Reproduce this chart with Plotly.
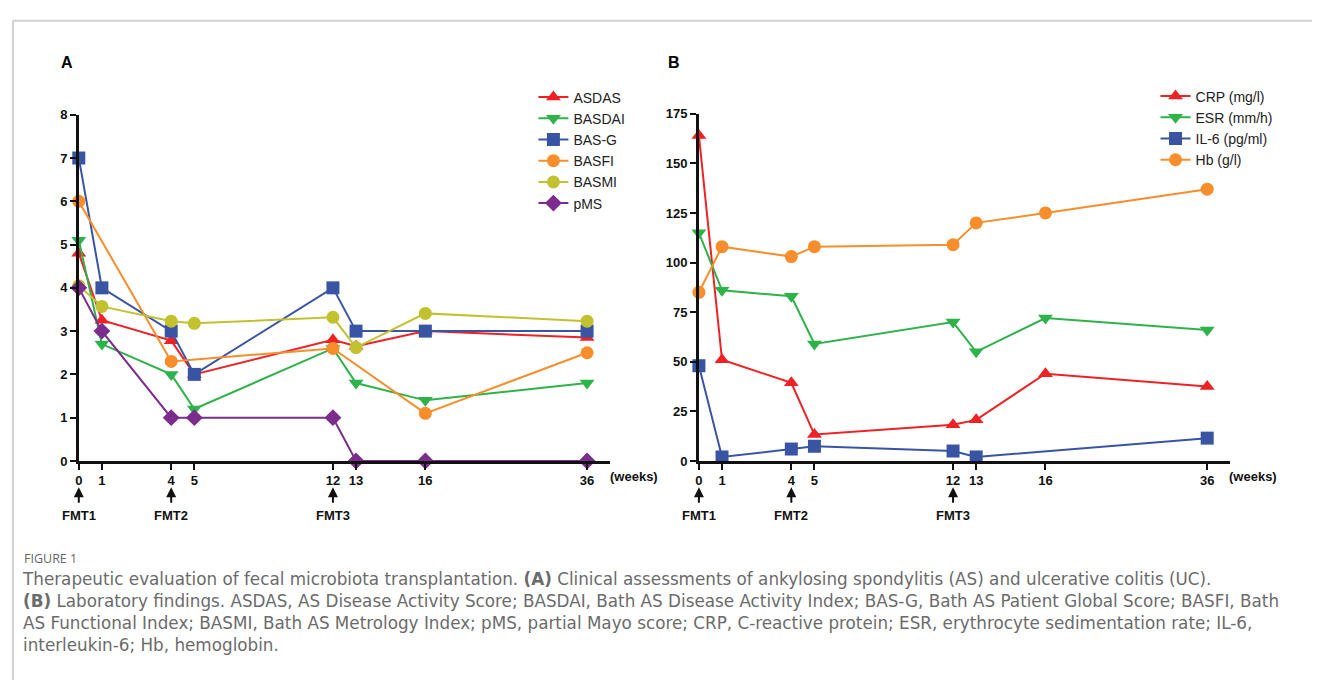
import plotly.graph_objects as go

# ---------------- data ----------------
weeks = [0, 1, 4, 5, 12, 13, 16, 36]

asdas = [4.8, 3.25, 2.78, 2.0, 2.8, 2.65, 3.0, 2.85]
basdai = [5.1, 2.7, 2.0, 1.2, 2.6, 1.8, 1.4, 1.8]
bas_g = [7, 4, 3, 2, 4, 3, 3, 3]
basfi = [6, None, 2.3, None, 2.6, None, 1.1, 2.5]
basmi = [4.05, 3.57, 3.23, 3.18, 3.32, 2.62, 3.41, 3.23]
pms = [4, 3, 1, 1, 1, 0, 0, 0]

crp = [164, 51, 39.4, 13.3, 18.2, 20.7, 44, 37.5]
esr = [115, 86, 83, 59, 70, 55, 72, 66]
il6 = [48, 2, 6, 7.4, 5, 2, None, 11.5]
hb = [85, 108, 103, 108, 109, 120, 125, 137]

fmt_weeks = [0, 4, 12]
fmt_labels = ["FMT1", "FMT2", "FMT3"]

yticks_a = [0, 1, 2, 3, 4, 5, 6, 7, 8]
yticks_b = [0, 25, 50, 75, 100, 125, 150, 175]

# compressed (GraphPad-style) week axis: scale mapping week -> axis position
AXIS_POS = {0: 0, 1: 1, 4: 4, 5: 5, 12: 11, 13: 12, 16: 15, 36: 22}
xpos = [AXIS_POS[w] for w in weeks]

# ---------------- style ----------------
W, H = 1320, 680
OFF = 8  # page body margin
RED = "#EE2124"
GREEN = "#2EB24A"
BLUE = "#3A54A4"
ORANGE = "#F78E2B"
OLIVE = "#C2C12F"
PURPLE = "#7B2C8C"

def py(pix):
    return 1 - (pix - OFF) / H

def px(pix):
    return (pix - OFF) / W

fig = go.Figure()

def add(x, y, name, color, symbol, size, xa, ya, legend):
    fig.add_trace(go.Scatter(
        x=x, y=y, name=name, mode="lines+markers", connectgaps=True,
        line=dict(color=color, width=2),
        marker=dict(color=color, symbol=symbol, size=size, line=dict(width=0)),
        xaxis=xa, yaxis=ya, legend=legend, cliponaxis=False,
    ))

add(xpos, asdas, "ASDAS", RED, "triangle-up", 13, "x", "y", "legend")
add(xpos, basdai, "BASDAI", GREEN, "triangle-down", 13, "x", "y", "legend")
add(xpos, bas_g, "BAS-G", BLUE, "square", 13, "x", "y", "legend")
add(xpos, basfi, "BASFI", ORANGE, "circle", 13, "x", "y", "legend")
add(xpos, basmi, "BASMI", OLIVE, "circle", 13, "x", "y", "legend")
add(xpos, pms, "pMS", PURPLE, "diamond", 13, "x", "y", "legend")

add(xpos, crp, "CRP (mg/l)", RED, "triangle-up", 13, "x2", "y2", "legend2")
add(xpos, esr, "ESR (mm/h)", GREEN, "triangle-down", 13, "x2", "y2", "legend2")
add(xpos, il6, "IL-6 (pg/ml)", BLUE, "square", 13, "x2", "y2", "legend2")
add(xpos, hb, "Hb (g/l)", ORANGE, "circle", 13, "x2", "y2", "legend2")

tickfont = dict(family="Liberation Sans, Arial", size=13, color="#111", weight="bold")

common_x = dict(
    range=[0, 23], tickmode="array", tickvals=xpos, ticktext=[str(w) for w in weeks],
    showline=True, linecolor="#111", linewidth=2.5, ticks="outside", ticklen=6,
    tickwidth=2, tickcolor="#111", showgrid=False, zeroline=False, tickfont=tickfont,
    fixedrange=True,
)
common_y = dict(
    showline=True, linecolor="#111", linewidth=2.5, ticks="outside", ticklen=6,
    tickwidth=2, tickcolor="#111", showgrid=False, zeroline=False, tickfont=tickfont,
    tickmode="array", fixedrange=True,
)

legfont = dict(family="Liberation Sans, Arial", size=14, color="#222")
fig.update_layout(
    width=W, height=H, margin=dict(l=0, r=0, t=0, b=0),
    paper_bgcolor="white", plot_bgcolor="white",
    xaxis=dict(domain=[px(75), px(608)], anchor="y", **common_x),
    yaxis=dict(domain=[py(464), py(110)], range=[0, 8], tickvals=yticks_a, anchor="x", **common_y),
    xaxis2=dict(domain=[px(697), px(1230)], anchor="y2", **common_x),
    yaxis2=dict(domain=[py(464), py(109)], range=[0, 175], tickvals=yticks_b, anchor="x2", **common_y),
    legend=dict(x=px(531), y=py(76), xanchor="left", yanchor="top", font=legfont,
                tracegroupgap=0, itemwidth=30, bgcolor="rgba(0,0,0,0)"),
    legend2=dict(x=px(1155), y=py(75), xanchor="left", yanchor="top", font=legfont,
                 tracegroupgap=0, itemwidth=30, bgcolor="rgba(0,0,0,0)"),
    showlegend=True,
)

ann = []
letter_font = dict(family="Liberation Sans, Arial", size=16, color="#000", weight="bold")
ann.append(dict(text="A", x=px(55), y=py(57), xref="paper", yref="paper", showarrow=False,
                xanchor="left", yanchor="middle", font=letter_font))
ann.append(dict(text="B", x=px(664), y=py(57), xref="paper", yref="paper", showarrow=False,
                xanchor="left", yanchor="middle", font=letter_font))

for xr, wx in [("x", 606), ("x2", 1227)]:
    ann.append(dict(text="(weeks)", x=px(wx), y=py(480), xref="paper", yref="paper",
                    showarrow=False, xanchor="left", yanchor="middle", font=tickfont))
    for w, lab in zip(fmt_weeks, fmt_labels):
        ann.append(dict(text="", x=AXIS_POS[w], y=py(491), xref=xr, yref="paper",
                        showarrow=True, ax=0, ay=17, arrowhead=2, arrowsize=1,
                        arrowwidth=2, arrowcolor="#111"))
        ann.append(dict(text=lab, x=AXIS_POS[w], y=py(520), xref=xr, yref="paper",
                        showarrow=False, xanchor="center", yanchor="middle", font=tickfont))

# caption
ann.append(dict(text="FIGURE 1", x=px(18), y=py(564), xref="paper", yref="paper",
                showarrow=False, xanchor="left", yanchor="middle",
                font=dict(family="Open Sans, Lato", size=12.5, color="#666")))
cap_lines = [
    "Therapeutic evaluation of fecal microbiota transplantation. <b>(A)</b> Clinical assessments of ankylosing spondylitis (AS) and ulcerative colitis (UC).",
    "<b>(B)</b> Laboratory findings. ASDAS, AS Disease Activity Score; BASDAI, Bath AS Disease Activity Index; BAS-G, Bath AS Patient Global Score; BASFI, Bath",
    "AS Functional Index; BASMI, Bath AS Metrology Index; pMS, partial Mayo score; CRP, C-reactive protein; ESR, erythrocyte sedimentation rate; IL-6,",
    "interleukin-6; Hb, hemoglobin.",
]
ann.append(dict(text="<br>".join(cap_lines), x=px(16), y=py(572), xref="paper", yref="paper",
                showarrow=False, xanchor="left", yanchor="top", align="left",
                font=dict(family="DejaVu Sans, Open Sans", size=16.8, color="#6b6b6b")))

fig.update_layout(annotations=ann)

# page frame
fig.add_shape(type="line", xref="paper", yref="paper", x0=px(9), x1=1, y0=py(14), y1=py(14),
              line=dict(color="#d2d2d2", width=2))
fig.add_shape(type="line", xref="paper", yref="paper", x0=px(9), x1=px(9), y0=py(14), y1=0,
              line=dict(color="#d2d2d2", width=2))

fig.write_html("out.html", config={"displayModeBar": False})
